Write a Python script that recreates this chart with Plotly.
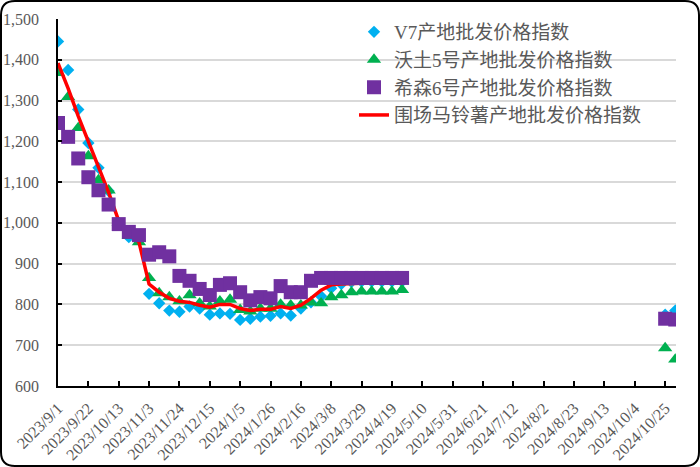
import pandas as pd
import plotly.graph_objects as go

# ---- data ----
weeks_a = [d.strftime("%Y-%m-%d") for d in pd.date_range("2023-09-01", "2024-04-26", freq="7D")]
gap_date = ["2024-05-03"]
weeks_b = ["2024-10-25", "2024-11-01"]
dates = weeks_a + gap_date + weeks_b

v7 = [1445, 1375, 1278, 1196, 1135, 1078, 1000, 965, 958, 826,
      803, 785, 782, 795, 790, 775, 778, 777, 762, 765,
      770, 772, 778, 773, 790, 805, 820, 840, 850, 855,
      856, 856, 856, 856, 856,
      None, 775, 785]
wotu5 = [1368, 1309, 1233, 1164, 1105, 1080, 1000, 968, 953, 865,
         828, 818, 808, 823, 803, 795, 808, 812, 787, 783,
         790, 790, 800, 798, 798, 805, 803, 818, 823, 830,
         832, 832, 832, 832, 836,
         None, 693, 665]
xisen6 = [1245, 1211, 1158, 1112, 1080, 1045, 997, 978, 970, 922,
          928, 918, 870, 858, 838, 823, 848, 852, 830, 810,
          818, 815, 845, 830, 830, 858, 865, 865, 865, 865,
          865, 865, 865, 865, 865,
          None, 765, 763]
weichang = [1392, 1330, 1262, 1198, 1135, 1075, 1005, 975, 953, 850,
            830, 815, 808, 805, 798, 793, 800, 800, 790, 785,
            788, 788, 795, 790, 798, 815, 835, 848, 850, 852,
            852, 852, 852, 852, 852,
            None, 760, 752]

names = ["V7产地批发价格指数", "沃土5号产地批发价格指数", "希森6号产地批发价格指数", "围场马铃薯产地批发价格指数"]

# ---- figure ----
W, H = 700, 467
L, R, T, B = 58, 24, 19, 81
PW, PH = W - L - R, H - T - B

fig = go.Figure()
fig.add_trace(go.Scatter(x=dates, y=v7, name=names[0], mode="markers", legendrank=1,
                         marker=dict(symbol="diamond", size=9.5, color="#00B0F0")))
fig.add_trace(go.Scatter(x=dates, y=wotu5, name=names[1], mode="markers", legendrank=2,
                         marker=dict(symbol="triangle-up", size=12.5, color="#00B050")))
fig.add_trace(go.Scatter(x=dates, y=weichang, name=names[3], mode="lines", legendrank=4,
                         connectgaps=False, line=dict(color="#FF0000", width=3.5)))
fig.add_trace(go.Scatter(x=dates, y=xisen6, name=names[2], mode="markers", legendrank=3,
                         marker=dict(symbol="square", size=14, color="#7030A0")))


def px(X):
    return (X - L) / PW


def py(Y):
    return (H - B - Y) / PH


# rounded outer border
x0, y0, x1, y1, r = 1, 1, W - 1, H - 1, 14
path = (f"M{px(x0 + r)},{py(y0)} L{px(x1 - r)},{py(y0)} Q{px(x1)},{py(y0)} {px(x1)},{py(y0 + r)} "
        f"L{px(x1)},{py(y1 - r)} Q{px(x1)},{py(y1)} {px(x1 - r)},{py(y1)} "
        f"L{px(x0 + r)},{py(y1)} Q{px(x0)},{py(y1)} {px(x0)},{py(y1 - r)} "
        f"L{px(x0)},{py(y0 + r)} Q{px(x0)},{py(y0)} {px(x0 + r)},{py(y0)} Z")
fig.add_shape(type="path", path=path, xref="paper", yref="paper",
              line=dict(color="#000000", width=2), fillcolor="rgba(0,0,0,0)", layer="above")

fig.update_layout(
    width=W, height=H, autosize=False,
    margin=dict(l=L, r=R, t=T, b=B, pad=0),
    paper_bgcolor="white", plot_bgcolor="white",
    font=dict(family="Liberation Serif, Noto Sans CJK SC", color="#595959"),
    showlegend=True,
    legend=dict(x=px(354), y=py(13), xanchor="left", yanchor="top",
                font=dict(size=19, color="#595959", family="Liberation Serif, Noto Sans CJK SC"),
                bgcolor="rgba(0,0,0,0)", tracegroupgap=0, itemwidth=30),
    xaxis=dict(type="date", range=["2023-09-01", "2024-11-01 12:00"],
               tick0="2023-09-01", dtick=21 * 86400000, tickformat="%Y/%-m/%-d",
               tickangle=-45, tickfont=dict(size=16, color="#595959"),
               showline=True, linecolor="#000000", linewidth=1.5,
               ticks="inside", ticklen=5, tickcolor="#000000", tickwidth=1.5,
               ticklabelstandoff=5, automargin=False,
               showgrid=False, zeroline=False),
    yaxis=dict(range=[600, 1500], dtick=100, tickformat=",d",
               tickfont=dict(size=16, color="#595959"),
               showline=True, linecolor="#000000", linewidth=1.5,
               ticks="inside", ticklen=4, tickcolor="#000000", tickwidth=1.5,
               ticklabelstandoff=14, automargin=False,
               showgrid=True, gridcolor="#D9D9D9", gridwidth=1.5, zeroline=False),
)

fig.write_html("out.html")
